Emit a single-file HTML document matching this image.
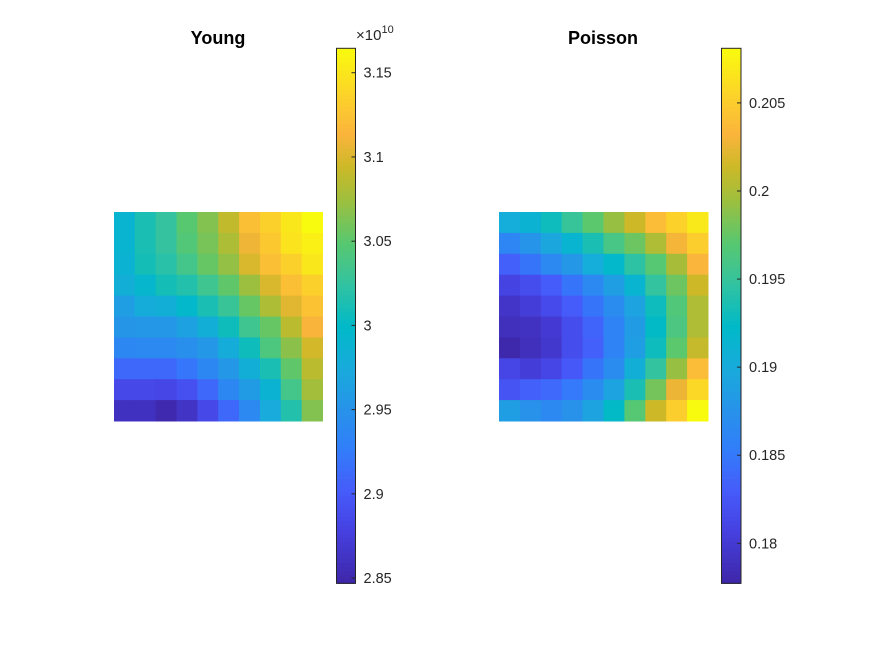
<!DOCTYPE html>
<html><head><meta charset="utf-8"><style>
body{margin:0;background:#fff;}
svg{display:block;font-family:"Liberation Sans",Arial,sans-serif;}
</style></head>
<body>
<svg id="fig" width="875" height="656" viewBox="0 0 875 656" xmlns="http://www.w3.org/2000/svg">
<rect width="875" height="656" fill="#fff"/>
<text x="218" y="44" text-anchor="middle" font-size="18" font-weight="bold" fill="#000">Young</text>
<text x="603" y="44" text-anchor="middle" font-size="18" font-weight="bold" fill="#000">Poisson</text>
<g id="g1"></g>
<g id="g2"></g>
<g id="c1"></g>
<g id="c2"></g>
<text x="356" y="40" font-size="15" fill="#262626">×10<tspan dy="-7" font-size="11">10</tspan></text>
</svg>
<script>
// Young (x1e10), rows top to bottom
const youngValues = [
[2.991,3.013,3.026,3.049,3.065,3.090,3.122,3.135,3.151,3.167],
[2.991,3.013,3.026,3.045,3.061,3.081,3.109,3.129,3.148,3.157],
[2.988,3.010,3.020,3.036,3.055,3.071,3.100,3.122,3.135,3.151],
[2.981,2.994,3.010,3.017,3.033,3.052,3.074,3.100,3.122,3.135],
[2.962,2.978,2.981,2.997,3.013,3.029,3.055,3.081,3.103,3.125],
[2.953,2.956,2.956,2.965,2.981,3.007,3.033,3.055,3.087,3.113],
[2.937,2.940,2.940,2.946,2.956,2.978,3.007,3.042,3.068,3.097],
[2.911,2.911,2.911,2.921,2.937,2.956,2.981,3.013,3.052,3.087],
[2.885,2.885,2.882,2.892,2.911,2.937,2.959,2.988,3.036,3.077],
[2.860,2.860,2.850,2.863,2.885,2.911,2.940,2.975,3.017,3.065]];
const poissonValues = [
[.1903,.1912,.1930,.1951,.1972,.1993,.2014,.2039,.2054,.2069],
[.1863,.1878,.1896,.1915,.1936,.1960,.1978,.2002,.2030,.2051],
[.1833,.1848,.1866,.1881,.1903,.1921,.1945,.1969,.1999,.2033],
[.1809,.1818,.1830,.1848,.1866,.1887,.1915,.1948,.1978,.2014],
[.1794,.1803,.1815,.1830,.1848,.1869,.1893,.1930,.1966,.2002],
[.1788,.1791,.1800,.1818,.1836,.1860,.1884,.1924,.1963,.2002],
[.1779,.1788,.1797,.1818,.1833,.1860,.1887,.1930,.1972,.2011],
[.1812,.1803,.1812,.1827,.1848,.1869,.1906,.1948,.1993,.2039],
[.1824,.1833,.1839,.1851,.1869,.1893,.1936,.1981,.2027,.2057],
[.1887,.1875,.1866,.1875,.1893,.1924,.1969,.2014,.2051,.2081]];
const youngLimits = [2.8469, 3.1645];
const poissonLimits = [0.17773, 0.2081];
const youngTicks = [2.85,2.9,2.95,3,3.05,3.1,3.15];
const youngTickLabels = ["2.85","2.9","2.95","3","3.05","3.1","3.15"];
const poissonTicks = [0.18,0.185,0.19,0.195,0.2,0.205];
const poissonTickLabels = ["0.18","0.185","0.19","0.195","0.2","0.205"];

const P=[[0,62,38,168],[0.1,70,65,225],[0.17,70,90,250],[0.25,50,125,250],[0.32,40,145,235],[0.4,25,170,220],[0.48,0,185,200],[0.56,50,195,160],[0.64,90,200,110],[0.72,160,190,60],[0.78,205,185,40],[0.84,250,180,60],[0.9,252,205,45],[1,249,251,14]];
function parula(t){t=Math.max(0,Math.min(1,t));for(let i=1;i<P.length;i++){if(t<=P[i][0]){const a=P[i-1],b=P[i],f=(t-a[0])/(b[0]-a[0]);const c=[1,2,3].map(k=>Math.round(a[k]+f*(b[k]-a[k])));return `rgb(${c[0]},${c[1]},${c[2]})`;}}return 'rgb(249,251,14)';}
const NS="http://www.w3.org/2000/svg";
function mk(tag,attrs,parent){const e=document.createElementNS(NS,tag);for(const k in attrs)e.setAttribute(k,attrs[k]);parent.appendChild(e);return e;}
function heat(g,vals,lim,x0,y0,w,h,nm){
  const n=vals.length,m=vals[0].length,cw=w/m,ch=h/n;
  vals.forEach((row,r)=>row.forEach((v,c)=>{
    const e=mk('rect',{x:x0+c*cw,y:y0+r*ch,width:cw+0.5,height:ch+0.5,fill:parula((v-lim[0])/(lim[1]-lim[0]))},g);
    
    
  }));
}
function cbar(g,lim,ticks,labels,x0,y0,w,h,nm){
  const N=128;
  for(let i=0;i<N;i++){mk('rect',{x:x0,y:y0+h-(i+1)*h/N,width:w,height:h/N+0.6,fill:parula((i+0.5)/N)},g);}
  mk('rect',{x:x0,y:y0,width:w,height:h,fill:'none',stroke:'#262626','stroke-width':1},g);
  const ys=v=>y0+h-(v-lim[0])/(lim[1]-lim[0])*h;
  ticks.forEach((t,i)=>{
    const y=ys(t);
    mk('line',{x1:x0+w-4,x2:x0+w,y1:y,y2:y,stroke:'#262626','stroke-width':1},g);
    const tx=mk('text',{x:x0+w+8,y:y+5,'font-size':14.5,fill:'#262626'},g);
    tx.textContent=labels[i];
    
    
  });
}
heat(document.getElementById('g1'),youngValues,youngLimits,114,212,208.5,209,'young');
heat(document.getElementById('g2'),poissonValues,poissonLimits,499,212,209,209,'poisson');
cbar(document.getElementById('c1'),youngLimits,youngTicks,youngTickLabels,336.5,48.3,19,535,'young-colorbar');
cbar(document.getElementById('c2'),poissonLimits,poissonTicks,poissonTickLabels,721.5,48.3,19.5,535,'poisson-colorbar');
</script>
</body></html>
